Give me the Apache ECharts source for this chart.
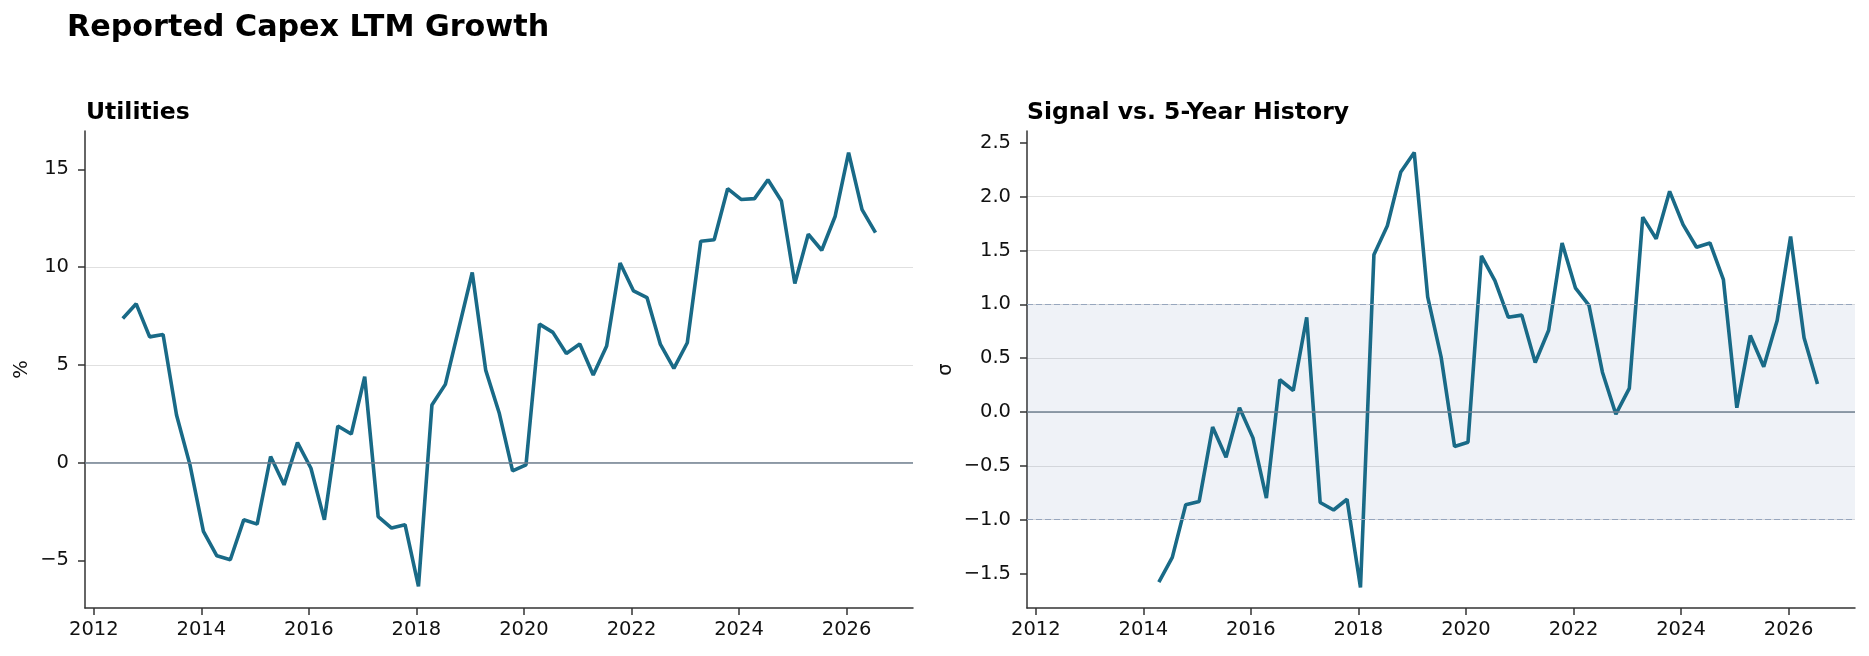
<!DOCTYPE html>
<html>
<head>
<meta charset="utf-8">
<title>Reported Capex LTM Growth</title>
<script src="https://cdn.jsdelivr.net/npm/echarts@6/dist/echarts.min.js"></script>
<style>
    html, body { margin: 0; padding: 0; background: #fff; }
    #main { width: 1869px; height: 656px; }
</style>
</head>
<body>
<div id="main"></div>
<script type="text/javascript">
    // quarterly observation dates, Jul 2012 .. Jul 2026 (57 points)
    var quarterDates = [];
    for (var i = 0; i < 57; i++) {
        var m = 2012 * 12 + 6 + 3 * i;
        var mm = (m % 12) + 1;
        quarterDates.push(Math.floor(m / 12) + '-' + (mm < 10 ? '0' + mm : mm) + '-15');
    }

    // Utilities reported capex, LTM growth (%)
    var capexGrowth = [
        7.37, 8.12, 6.43, 6.55, 2.43, -0.12, -3.52, -4.77, -4.97, -2.93,
        -3.15, 0.31, -1.14, 1.02, -0.29, -2.93, 1.87, 1.46, 4.39, -2.76,
        -3.35, -3.18, -6.33, 2.94, 4.00, 6.86, 9.72, 4.73, 2.55, -0.43,
        -0.12, 7.08, 6.66, 5.58, 6.06, 4.48, 5.96, 10.21, 8.78, 8.44,
        6.04, 4.82, 6.13, 11.32, 11.40, 14.01, 13.46, 13.50, 14.47, 13.38,
        9.16, 11.68, 10.86, 12.60, 15.85, 12.94, 11.76
    ];

    // signal vs. 5-year history (z-score), starts Apr 2014
    var signalZ = [
        null, null, null, null, null, null, null,
        -1.58, -1.35, -0.86, -0.83, -0.14, -0.42, 0.04, -0.24, -0.80, 0.30,
        0.20, 0.88, -0.84, -0.91, -0.81, -1.63, 1.46, 1.73, 2.23, 2.41,
        1.07, 0.51, -0.32, -0.28, 1.45, 1.22, 0.88, 0.90, 0.46, 0.76,
        1.57, 1.15, 0.99, 0.37, -0.02, 0.22, 1.81, 1.61, 2.05, 1.74,
        1.53, 1.57, 1.23, 0.04, 0.71, 0.42, 0.85, 1.63, 0.69, 0.26
    ];

    var yearTicks = [2012, 2014, 2016, 2018, 2020, 2022, 2024, 2026];
    var leftTicks = [-5, 0, 5, 10, 15];
    var rightTicks = [-1.5, -1.0, -0.5, 0.0, 0.5, 1.0, 1.5, 2.0, 2.5];

    var lineColor = '#196a87';
    var font = 'DejaVu Sans';

    // date string -> fractional year, so the x axis is a plain value axis
    function toYear(s) {
        var p = s.split('-');
        return +p[0] + (+p[1] - 1) / 12 + (+p[2] - 1) / 365;
    }
    var minus = function (s) { return String(s).replace('-', '\u2212'); };

    function xAxisFor(idx) {
        return {
            type: 'value',
            gridIndex: idx,
            min: 2011.836,
            max: 2027.236,
            axisLine: { show: true, onZero: false, lineStyle: { color: '#333', width: 1.5 } },
            axisTick: { show: true, length: 7, lineStyle: { color: '#333', width: 1.5 }, customValues: yearTicks },
            axisLabel: {
                customValues: yearTicks,
                margin: 12,
                color: '#111',
                fontFamily: font,
                fontSize: 19.5,
                formatter: function (v) { return String(Math.round(v)); }
            },
            splitLine: { show: false }
        };
    }

    function zip(vals) {
        return quarterDates.map(function (d, i) { return [toYear(d), vals[i]]; });
    }

    var myChart = echarts.init(document.getElementById('main'), null, { renderer: 'canvas' });
    myChart.setOption({
        animation: false,
        backgroundColor: '#fff',
        title: [
            { text: 'Reported Capex LTM Growth', left: 67, top: 13, padding: 0,
              textStyle: { fontFamily: font, fontSize: 30.2, fontWeight: 'bold', color: '#000', lineHeight: 30 } },
            { text: 'Utilities', left: 86, top: 101, padding: 0,
              textStyle: { fontFamily: font, fontSize: 23.5, fontWeight: 'bold', color: '#000', lineHeight: 24 } },
            { text: 'Signal vs. 5-Year History', left: 1027, top: 101, padding: 0,
              textStyle: { fontFamily: font, fontSize: 23.5, fontWeight: 'bold', color: '#000', lineHeight: 24 } }
        ],
        grid: [
            { left: 85, top: 131, width: 828, height: 477 },
            { left: 1027, top: 131, width: 828, height: 477 }
        ],
        xAxis: [xAxisFor(0), xAxisFor(1)],
        yAxis: [
            {
                type: 'value', gridIndex: 0, min: -7.44, max: 16.96, splitNumber: 5,
                name: '%', nameLocation: 'middle', nameGap: 53, nameRotate: 90,
                nameTextStyle: { fontFamily: font, fontSize: 19.5, color: '#111' },
                axisLine: { show: true, onZero: false, lineStyle: { color: '#333', width: 1.5 } },
                axisTick: { show: true, length: 7, lineStyle: { color: '#333', width: 1.5 }, customValues: leftTicks },
                axisLabel: { customValues: leftTicks, margin: 16, color: '#111', fontFamily: font, fontSize: 19.5,
                             formatter: function (v) { return minus(v); } },
                splitLine: { show: true, showMinLine: false, showMaxLine: false, lineStyle: { color: '#e0e0e0', width: 1 } }
            },
            {
                type: 'value', gridIndex: 1, min: -1.82, max: 2.61, splitNumber: 9,
                name: '\u03c3', nameLocation: 'middle', nameGap: 71, nameRotate: 90,
                nameTextStyle: { fontFamily: font, fontSize: 19.5, color: '#111' },
                axisLine: { show: true, onZero: false, lineStyle: { color: '#333', width: 1.5 } },
                axisTick: { show: true, length: 7, lineStyle: { color: '#333', width: 1.5 }, customValues: rightTicks },
                axisLabel: { customValues: rightTicks, margin: 16, color: '#111', fontFamily: font, fontSize: 19.5,
                             formatter: function (v) { return minus(v.toFixed(1)); } },
                splitLine: { show: true, showMinLine: false, showMaxLine: false, lineStyle: { color: '#e0e0e0', width: 1 } }
            }
        ],
        series: [
            {
                // reference lines, drawn under the data
                type: 'line', xAxisIndex: 0, yAxisIndex: 0, data: [], z: 1, silent: true,
                markLine: {
                    silent: true, symbol: ['none', 'none'], label: { show: false },
                    lineStyle: { color: '#708090', width: 1.5, type: 'solid' },
                    data: [{ yAxis: 0 }]
                }
            },
            {
                type: 'line', xAxisIndex: 1, yAxisIndex: 1, data: [], z: 1, silent: true,
                markArea: {
                    silent: true,
                    itemStyle: { color: 'rgba(100,130,180,0.1)' },
                    data: [[{ yAxis: -1 }, { yAxis: 1 }]]
                },
                markLine: {
                    silent: true, symbol: ['none', 'none'], label: { show: false },
                    data: [
                        { yAxis: 0, lineStyle: { color: '#708090', width: 1.5, type: 'solid' } },
                        { yAxis: 1, lineStyle: { color: '#97a6bd', width: 1.2, type: [6, 3] } },
                        { yAxis: -1, lineStyle: { color: '#97a6bd', width: 1.2, type: [6, 3] } }
                    ]
                }
            },
            {
                name: 'Utilities', type: 'line', xAxisIndex: 0, yAxisIndex: 0, z: 3,
                showSymbol: false, data: zip(capexGrowth),
                lineStyle: { color: lineColor, width: 3.6 }, itemStyle: { color: lineColor }
            },
            {
                name: 'Signal', type: 'line', xAxisIndex: 1, yAxisIndex: 1, z: 3,
                showSymbol: false, connectNulls: false, data: zip(signalZ),
                lineStyle: { color: lineColor, width: 3.6 }, itemStyle: { color: lineColor }
            }
        ]
    });
</script>
</body>
</html>
